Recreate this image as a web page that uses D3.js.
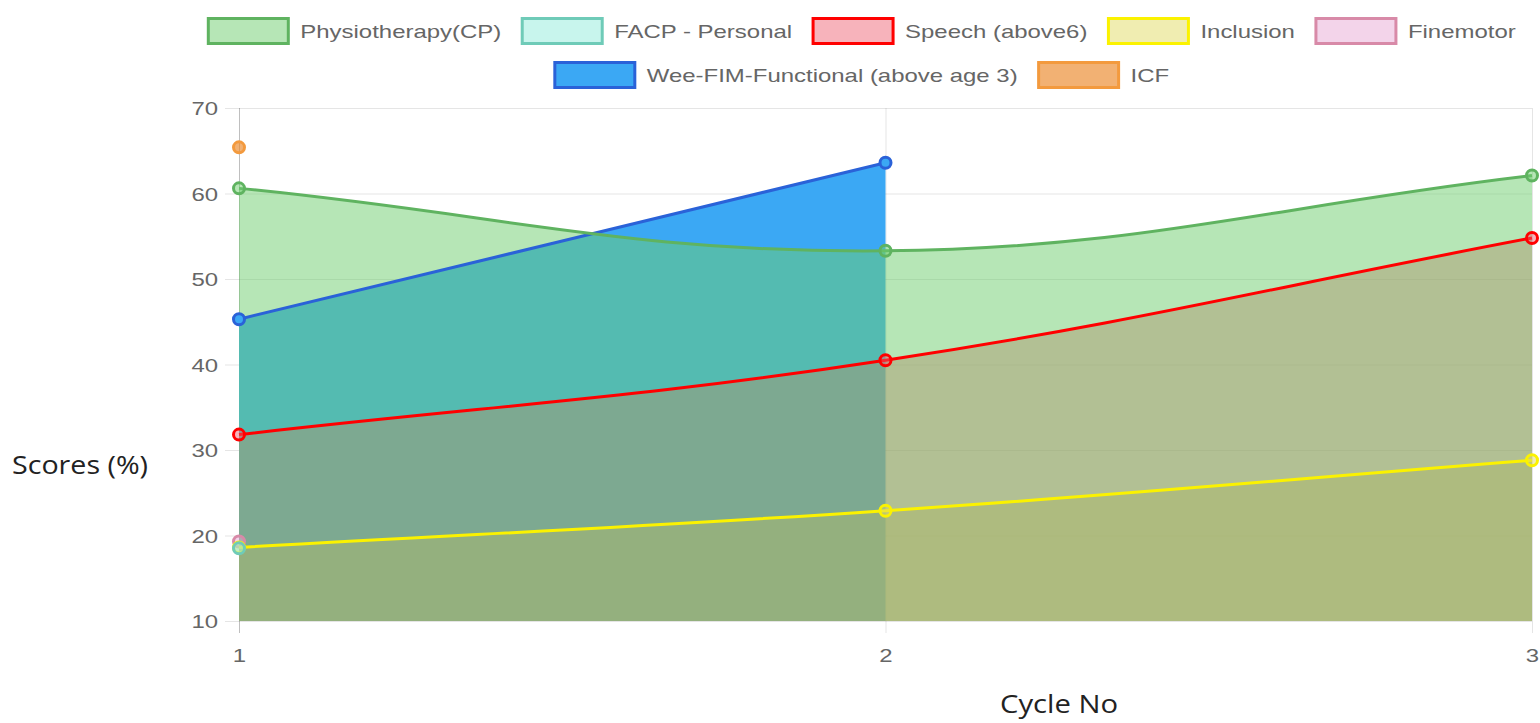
<!DOCTYPE html>
<html>
<head>
<meta charset="utf-8">
<script src="https://cdn.jsdelivr.net/npm/d3@7/dist/d3.min.js"></script>
<style>
  html, body { margin: 0; padding: 0; background: #fff; }
  svg { display: block; }
</style>
</head>
<body>
<svg id="chart" width="1540" height="723"></svg>
<script>
// ---------- data ----------
const cycles = [1, 2, 3];
const yTicks = [10, 20, 30, 40, 50, 60, 70];
const seriesNames = ["Physiotherapy(CP)", "FACP - Personal", "Speech (above6)", "Inclusion", "Finemotor", "Wee-FIM-Functional (above age 3)", "ICF"];
const physio    = [60.6, 53.3, 62.1];
const facp      = [18.5, null, null];
const speech    = [31.8, 40.5, 54.8];
const inclusion = [18.6, 22.9, 28.8];
const finemotor = [19.3, null, null];
const weefim    = [45.3, 63.6, null];
const icf       = [65.4, null, null];
const yTitle = "Scores (%)";
const xTitle = "Cycle No";

// ---------- styles ----------
const styles = [
  { fill: "rgba(109,205,109,0.5)", stroke: "#5fb360" },
  { fill: "rgba(145,235,220,0.5)", stroke: "#6fcbb8" },
  { fill: "rgba(237,89,106,0.46)", stroke: "#ff0000" },
  { fill: "rgba(225,220,100,0.5)", stroke: "#fbf200" },
  { fill: "rgba(231,169,213,0.5)", stroke: "#d88aa8" },
  { fill: "rgb(59,168,244)",       stroke: "#2a62d8" },
  { fill: "rgba(235,135,40,0.65)", stroke: "#f39a3e" }
];
const allValues = [physio, facp, speech, inclusion, finemotor, weefim, icf];
const datasets = seriesNames.map((n, i) => ({ name: n, values: allValues[i], ...styles[i] }));

const W = 1540, H = 723;
const area = { left: 239, right: 1532, top: 108, bottom: 621 };
const x = d3.scaleLinear().domain([1, 3]).range([area.left, area.right]);
const y = d3.scaleLinear().domain([10, 70]).range([area.bottom, area.top]);

const svg = d3.select("#chart");
svg.append("rect").attr("width", W).attr("height", H).attr("fill", "#fff");

const FONT = "'Liberation Sans', Arial, Helvetica, sans-serif";
const FSIZE = "19px";
const STRETCH = 1.26;
function stretch(sel, k) {
  sel.each(function () {
    const w = this.getComputedTextLength();
    d3.select(this).attr("textLength", w * k).attr("lengthAdjust", "spacingAndGlyphs");
  });
}

// ---------- grid / axes ----------
const yAxis = d3.axisLeft(y).tickValues(yTicks).tickSize(area.right - area.left + 14).tickPadding(7);
const gy = svg.append("g").attr("transform", `translate(${area.right},0)`).call(yAxis);
gy.select(".domain").remove();
gy.selectAll(".tick line").attr("stroke", "rgba(0,0,0,0.1)").attr("stroke-width", 1);
gy.selectAll(".tick text").attr("fill", "#666").style("font-family", FONT).style("font-size", FSIZE)
  .attr("dy", "0.36em").call(stretch, STRETCH);

const xAxis = d3.axisBottom(x).tickValues(cycles).tickFormat(d3.format("d"))
  .tickSize(-(area.bottom - area.top)).tickPadding(0);
const gx = svg.append("g").attr("transform", `translate(0,${area.bottom})`).call(xAxis);
gx.select(".domain").remove();
gx.selectAll(".tick line").attr("y2", 12).attr("y1", -(area.bottom - area.top))
  .attr("stroke", (d) => d === 1 ? "rgba(0,0,0,0.25)" : "rgba(0,0,0,0.1)");
gx.selectAll(".tick text").attr("fill", "#666").style("font-family", FONT).style("font-size", FSIZE)
  .attr("y", 41).attr("dy", 0).call(stretch, STRETCH);

// ---------- Chart.js-like spline ----------
function pathFor(values, closeToBottom) {
  const pts = [];
  values.forEach((v, i) => { if (v !== null) pts.push({ x: x(cycles[i]), y: y(v) }); });
  if (pts.length < 2) return null;
  const t = 0.4;
  pts.forEach((p, i) => {
    const prev = pts[i - 1] || p, next = pts[i + 1] || p;
    const d01 = Math.hypot(p.x - prev.x, p.y - prev.y);
    const d12 = Math.hypot(next.x - p.x, next.y - p.y);
    let s01 = d01 / (d01 + d12), s12 = d12 / (d01 + d12);
    if (isNaN(s01)) s01 = 0; if (isNaN(s12)) s12 = 0;
    const fa = t * s01, fb = t * s12;
    p.cpPrev = { x: p.x - fa * (next.x - prev.x), y: p.y - fa * (next.y - prev.y) };
    p.cpNext = { x: p.x + fb * (next.x - prev.x), y: p.y + fb * (next.y - prev.y) };
    p.cpPrev.y = Math.max(area.top, Math.min(area.bottom, p.cpPrev.y));
    p.cpNext.y = Math.max(area.top, Math.min(area.bottom, p.cpNext.y));
  });
  const path = d3.path();
  path.moveTo(pts[0].x, pts[0].y);
  for (let i = 1; i < pts.length; i++) {
    const a = pts[i - 1], b = pts[i];
    path.bezierCurveTo(a.cpNext.x, a.cpNext.y, b.cpPrev.x, b.cpPrev.y, b.x, b.y);
  }
  if (closeToBottom) {
    path.lineTo(pts[pts.length - 1].x, y(10));
    path.lineTo(pts[0].x, y(10));
    path.closePath();
  }
  return path.toString();
}

// fills first (reverse order, first dataset on top)
const fills = svg.append("g");
datasets.slice().reverse().forEach((ds) => {
  const d = pathFor(ds.values, true);
  if (d) fills.append("path").attr("d", d).attr("fill", ds.fill);
});

// lines and points (reverse order)
const lines = svg.append("g");
datasets.slice().reverse().forEach((ds) => {
  const d = pathFor(ds.values, false);
  if (d) lines.append("path").attr("d", d).attr("fill", "none").attr("stroke", ds.stroke).attr("stroke-width", 3);
  ds.values.forEach((v, i) => {
    if (v === null) return;
    lines.append("circle").attr("cx", x(cycles[i])).attr("cy", y(v)).attr("r", 5.5)
      .attr("fill", ds.fill).attr("stroke", ds.stroke).attr("stroke-width", 3);
  });
});

// ---------- legend ----------
const legend = svg.append("g");
const boxW = 80, boxH = 25, gapText = 12, itemGap = 21, maxRow = 1330, centerX = 862;
const rowsY = [31, 75];
const items = datasets.map((ds) => {
  const g = legend.append("g");
  g.append("rect").attr("width", boxW).attr("height", boxH).attr("y", -boxH / 2)
    .attr("fill", ds.fill).attr("stroke", ds.stroke).attr("stroke-width", 3);
  const t = g.append("text").text(ds.name).attr("x", boxW + gapText).attr("dy", "0.36em")
    .attr("fill", "#666").style("font-family", FONT).style("font-size", FSIZE);
  t.call(stretch, STRETCH);
  const tw = +t.attr("textLength");
  return { g, w: boxW + gapText + tw };
});
const rows = [[]];
let cur = 0;
items.forEach((it) => {
  const add = (rows[rows.length - 1].length ? itemGap : 0) + it.w;
  if (cur + add > maxRow && rows[rows.length - 1].length) { rows.push([it]); cur = it.w; }
  else { rows[rows.length - 1].push(it); cur += add; }
});
rows.forEach((row, r) => {
  const total = d3.sum(row, (d) => d.w) + itemGap * (row.length - 1);
  let xx = centerX - total / 2;
  row.forEach((it) => {
    it.g.attr("transform", `translate(${xx},${rowsY[r]})`);
    xx += it.w + itemGap;
  });
});

// ---------- axis titles ----------
const TFONT = "'Open Sans', 'Noto Sans', sans-serif";
svg.append("text").text(yTitle).attr("x", 12).attr("y", 474)
  .attr("fill", "#222").style("font-family", TFONT).style("font-size", "25px")
  .attr("textLength", 136).attr("lengthAdjust", "spacingAndGlyphs");
svg.append("text").text(xTitle).attr("x", 1000).attr("y", 713)
  .attr("fill", "#222").style("font-family", TFONT).style("font-size", "25px")
  .attr("textLength", 118).attr("lengthAdjust", "spacingAndGlyphs");
</script>
</body>
</html>
